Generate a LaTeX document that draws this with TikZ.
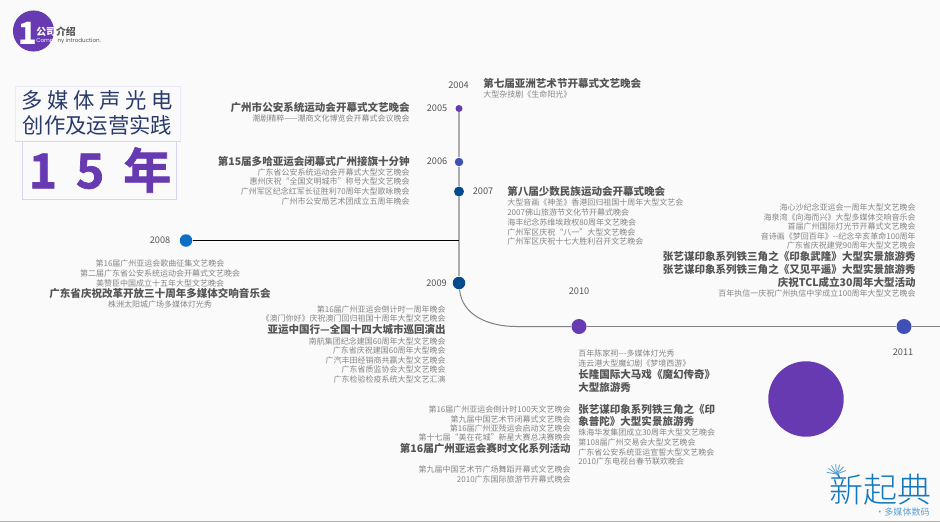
\documentclass[tikz,border=0pt]{standalone}
\usepackage{fontspec}
\setmainfont{Noto Sans CJK SC}
\newfontfamily\widefont[LetterSpace=22]{Noto Sans CJK SC}
\newfontfamily\heavyfont[FakeBold=1.5]{Noto Sans CJK SC Bold}
\newfontfamily\thinfont{Noto Sans CJK SC Light}
\newfontfamily\latinfont{Poppins}
\definecolor{paper}{HTML}{FAFAFB}
\definecolor{violet}{HTML}{673AB2}
\definecolor{indigo}{HTML}{3F51B5}
\definecolor{navy}{HTML}{054A8B}
\definecolor{azure}{HTML}{0B6FC6}
\definecolor{ink}{HTML}{555555}
\definecolor{soft}{HTML}{858585}
\definecolor{lilac}{HTML}{DAD4F0}
\definecolor{slate}{HTML}{2A3A6B}
\definecolor{logoblue}{HTML}{1478BE}
\tikzset{
  big/.style={font=\bfseries\fontsize{7.9pt}{9pt}\selectfont,text=ink,inner sep=0pt,text height=6.5pt,text depth=1.4pt},
  small/.style={font=\fontsize{6pt}{7pt}\selectfont,text=soft,inner sep=0pt,text height=5pt,text depth=1pt},
  year/.style={font=\fontsize{6.9pt}{8pt}\selectfont,text=ink,inner sep=0pt},
  dot/.style={circle,inner sep=0pt,minimum size=#1*.75pt},
  frame/.style={line width=.6pt,inner sep=0pt,anchor=north west},
}
\begin{document}
\begin{tikzpicture}[x=.75pt,y=-.75pt]
  \useasboundingbox (0,0) rectangle (940,522);
  \fill[paper] (0,0) rectangle (940,522);
  \draw[gray!60,line width=.8pt] (0,521.6) -- (940,521.6);

  \node[circle,fill=violet,minimum size=30.8pt,inner sep=0pt] (badge) at (33.5,31) {};
  \node[font=\bfseries\fontsize{23pt}{24pt}\selectfont,text=white,inner sep=0pt] (badgenum) at (27.5,33) {1};
  \node[font=\bfseries\fontsize{7.4pt}{8pt}\selectfont,text=ink,inner sep=0pt,anchor=west] (badgetitle) at (36,31.5) {\textcolor{white}{公司}介绍};
  \node[font=\latinfont\fontsize{4.2pt}{5pt}\selectfont,text=ink,inner sep=0pt,anchor=west] (badgesub) at (36,41) {\textcolor{white}{Compa}ny introduction.};

  \node[frame,draw=lilac!50,minimum width=123.8pt,minimum height=41.2pt] (titlebox) at (15,86) {};
  \draw[lilac,line width=.8pt] (titlebox.south west) -- (titlebox.south east);
  \node[frame,draw=lilac,minimum width=115.6pt,minimum height=43.7pt] (yearbox) at (21.7,141) {};
  \node[font=\widefont\fontsize{16pt}{18pt}\selectfont,text=slate,inner sep=0pt] (title1) at (97.5,100.5) {多媒体声光电};
  \node[font=\fontsize{16pt}{18pt}\selectfont,text=slate,inner sep=0pt] (title2) at (97.5,125) {创作及运营实践};
  \node[font=\heavyfont\fontsize{36pt}{38pt}\selectfont,text=violet,inner sep=0pt] (years) at (100,170) {1\hspace{14.2pt}5\hspace{14.2pt}年};

  \node[dot=7,fill=violet] (dot2005) at (459,108.5) {};
  \node[dot=8.5,fill=indigo] (dot2006) at (459,162) {};
  \node[dot=10,fill=navy] (dot2007) at (459,191.5) {};
  \node[dot=12.5,fill=azure] (dot2008) at (186,240.5) {};
  \node[dot=12.5,fill=navy] (dot2009) at (459,283) {};
  \node[dot=15,fill=violet] (dot2010) at (579,326.5) {};
  \node[dot=15,fill=indigo] (dot2011) at (904,326.5) {};
  \coordinate (join2008) at (459,240.5);
  \coordinate (bend2009) at (516,326.5);
  \coordinate (lineend) at (940,326.5);
  \draw[gray!65,line width=1.1pt] (dot2005) -- (dot2006);
  \draw[gray!65,line width=1.1pt] (dot2006) -- (dot2007);
  \draw[gray!65,line width=1.1pt] (dot2007) -- (dot2009);
  \draw[black,line width=.75pt] (dot2008) -- (join2008);
  \draw[gray,line width=.75pt] (dot2009) to[out=-85,in=180] (bend2009) -- (dot2010);
  \draw[gray,line width=.75pt] (dot2010) -- (dot2011);
  \draw[gray,line width=.75pt] (dot2011) -- (lineend);

  \node[year] (y2004) at (458.5,85) {2004};
  \node[year] (y2005) at (437,108.5) {2005};
  \node[year] (y2006) at (437,161.5) {2006};
  \node[year] (y2007) at (483,191.5) {2007};
  \node[year] (y2008) at (160,240.5) {2008};
  \node[year] (y2009) at (436.5,283) {2009};
  \node[year] (y2010) at (579,291) {2010};
  \node[year] (y2011) at (903,352.5) {2011};

  \node[big,anchor=west] (a1) at (483,84.5) {第七届亚洲艺术节开幕式文艺晚会};
  \node[small,anchor=west] (a2) at (483,95) {大型杂技剧《生命阳光》};

  \node[big,anchor=east] (b1) at (410,108) {广州市公安系统运动会开幕式文艺晚会};
  \node[small,anchor=east] (b2) at (410,119) {潮剧精粹——潮商文化博览会开幕式会议晚会};

  \node[big,anchor=east] (c1) at (410,162) {第15届多哈亚运会闭幕式广州接旗十分钟};
  \node[small,anchor=east] (c2) at (410,173) {广东省公安系统运动会开幕式大型文艺晚会};
  \node[small,anchor=east] (c3) at (410,182) {惠州庆祝“全国文明城市”称号大型文艺晚会};
  \node[small,anchor=east] (c4) at (410,192) {广州军区纪念红军长征胜利70周年大型歌咏晚会};
  \node[small,anchor=east] (c5) at (410,202) {广州市公安局艺术团成立五周年晚会};

  \node[big,anchor=west] (d1) at (507,192) {第八届少数民族运动会开幕式晚会};
  \node[small,anchor=west] (d2) at (507,203) {大型音画《神圣》香港回归祖国十周年大型文艺会};
  \node[small,anchor=west] (d3) at (507,213) {2007佛山旅游节文化节开幕式晚会};
  \node[small,anchor=west] (d4) at (507,222.5) {海丰纪念苏维埃政权80周年文艺晚会};
  \node[small,anchor=west] (d5) at (507,232.5) {广州军区庆祝“八一”大型文艺晚会};
  \node[small,anchor=west] (d6) at (507,242) {广州军区庆祝十七大胜利召开文艺晚会};

  \node[small] (e1) at (160,264) {第16届广州亚运会歌曲征集文艺晚会};
  \node[small] (e2) at (160,274) {第二届广东省公安系统运动会开幕式文艺晚会};
  \node[small] (e3) at (160,283.5) {美赞臣中国成立十五年大型文艺晚会};
  \node[big] (e4) at (160,294.5) {广东省庆祝改革开放三十周年多媒体交响音乐会};
  \node[small] (e5) at (160,305) {株洲太阳城广场多媒体灯光秀};

  \node[small,anchor=east] (f1) at (446,309.5) {第16届广州亚运会倒计时一周年晚会};
  \node[small,anchor=east] (f2) at (446,319) {《澳门你好》庆祝澳门回归祖国十周年大型文艺晚会};
  \node[big,anchor=east] (f3) at (446,330.5) {亚运中国行—全国十四大城市巡回演出};
  \node[small,anchor=east] (f4) at (446,341.5) {南航集团纪念建国60周年大型文艺晚会};
  \node[small,anchor=east] (f5) at (446,351) {广东省庆祝建国60周年大型晚会};
  \node[small,anchor=east] (f6) at (446,360.5) {广汽丰田经销商共赢大型文艺晚会};
  \node[small,anchor=east] (f7) at (446,370) {广东省质监协会大型文艺晚会};
  \node[small,anchor=east] (f8) at (446,379.5) {广东检验检疫系统大型文艺汇演};

  \node[small,anchor=east] (g1) at (571,410) {第16届广州亚运会倒计时100天文艺晚会};
  \node[small,anchor=east] (g2) at (571,419.5) {第九届中国艺术节闭幕式文艺晚会};
  \node[small,anchor=east] (g3) at (571,429) {第16届广州亚残运会启动文艺晚会};
  \node[small,anchor=east] (g4) at (571,438) {第十七届“美在花城”新星大赛总决赛晚会};
  \node[big,anchor=east] (g5) at (571,449.5) {第16届广州亚运会赛时文化系列活动};
  \node[small,anchor=east] (g6) at (571,470) {第九届中国艺术节广场舞蹈开幕式文艺晚会};
  \node[small,anchor=east] (g7) at (571,480) {2010广东国际旅游节开幕式晚会};

  \node[small,anchor=west] (h1) at (578,354) {百年陈家祠-{}-{}-多媒体灯光秀};
  \node[small,anchor=west] (h2) at (578,364) {连云港大型魔幻剧《梦境西游》};
  \node[big,anchor=west] (h3) at (578,375) {长隆国际大马戏《魔幻传奇》};
  \node[big,anchor=west] (h4) at (578,388.5) {大型旅游秀};
  \node[big,anchor=west] (h5) at (578,410) {张艺谋印象系列铁三角之《印};
  \node[big,anchor=west] (h6) at (578,422.5) {象普陀》大型实景旅游秀};
  \node[small,anchor=west] (h7) at (578,433) {珠海华发集团成立30周年大型文艺晚会};
  \node[small,anchor=west] (h8) at (578,443) {第108届广州交易会大型文艺晚会};
  \node[small,anchor=west] (h9) at (578,453) {广东省公安系统亚运宣誓大型文艺晚会};
  \node[small,anchor=west] (h10) at (578,462) {2010广东电视台春节联欢晚会};

  \node[small,anchor=east] (i1) at (916,208) {海心沙纪念亚运会一周年大型文艺晚会};
  \node[small,anchor=east] (i2) at (916,218) {海泉湾《向海而兴》大型多媒体交响音乐会};
  \node[small,anchor=east] (i3) at (916,227) {首届广州国际灯光节开幕式文艺晚会};
  \node[small,anchor=east] (i4) at (916,237) {音诗画《梦回百年》-{}-纪念辛亥革命100周年};
  \node[small,anchor=east] (i5) at (916,246) {广东省庆祝建党90周年大型文艺晚会};
  \node[big,anchor=east] (i6) at (916,257) {张艺谋印象系列铁三角之《印象武隆》大型实景旅游秀};
  \node[big,anchor=east] (i7) at (916,270.5) {张艺谋印象系列铁三角之《又见平遥》大型实景旅游秀};
  \node[big,anchor=east] (i8) at (916,283) {庆祝TCL成立30周年大型活动};
  \node[small,anchor=east] (i9) at (916,294) {百年执信一庆祝广州执信中学成立100周年大型文艺晚会};

  \node[circle,fill=violet,minimum size=56.6pt,inner sep=0pt] (bigdisc) at (806,399) {};

  \node[font=\thinfont\fontsize{25.5pt}{27pt}\selectfont,text=logoblue,inner sep=0pt] (logo) at (880,490) {新起典};
  \node[font=\fontsize{6.8pt}{8pt}\selectfont,text=logoblue!70,inner sep=0pt,anchor=east] (logosub) at (930,512) {·多媒体数码};
  \coordinate (flake) at (836.5,474);
  \foreach \a in {20,45,...,170}
    \draw[logoblue!70,line width=.6pt] (flake) -- ++(-\a:10);
\end{tikzpicture}
\end{document}
